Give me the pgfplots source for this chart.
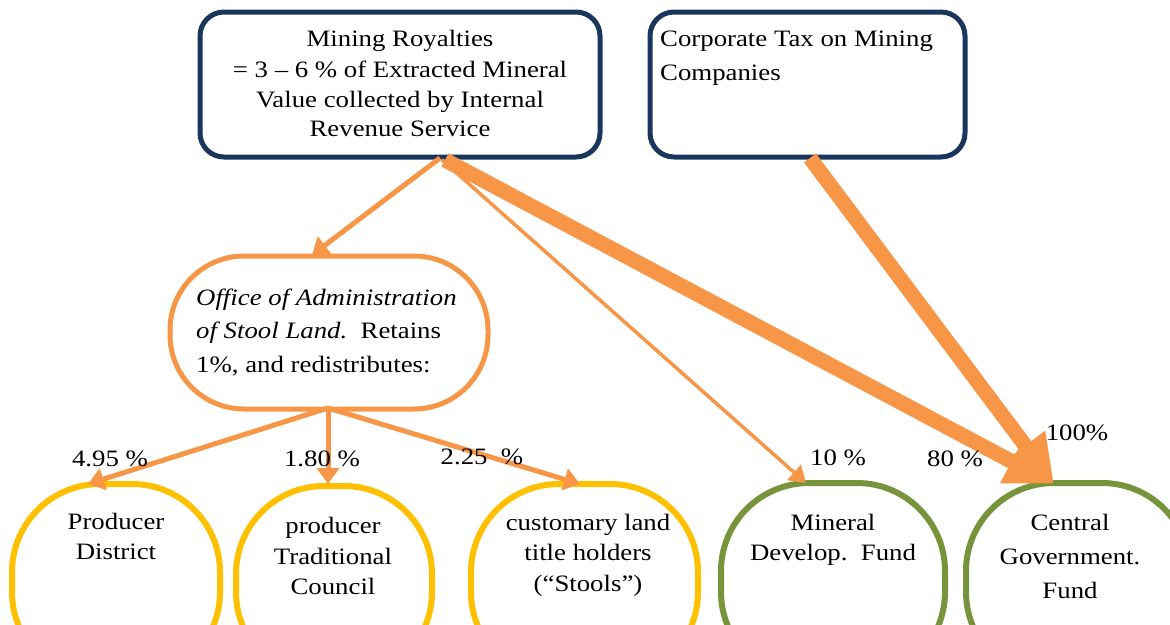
\documentclass[border=0pt]{standalone}
\usepackage{pgfplots}
\pgfplotsset{compat=1.18}
\usepackage{fontspec}
\setmainfont{Liberation Serif}[FakeStretch=1.14]
\usetikzlibrary{arrows.meta}
\definecolor{navy}{HTML}{1B365D}
\definecolor{orng}{HTML}{F79646}
\definecolor{yel}{HTML}{FFC000}
\definecolor{grn}{HTML}{77933C}
\newcommand\bigf{\fontsize{23.5}{30}\selectfont}
\begin{document}
\begin{tikzpicture}[lbl/.style={font=\bigf, inner sep=0pt, anchor=base}]
\begin{axis}[
    scale only axis, width=1170pt, height=624pt,
    xmin=0, xmax=1170, ymin=0, ymax=624, y dir=reverse,
    hide axis, clip=true,
  ]
  % boxes
  \draw[navy, line width=5pt, fill=white, rounded corners=24pt] (200,12) rectangle (600,157);
  \draw[navy, line width=5pt, fill=white, rounded corners=24pt] (650,12) rectangle (965,157);
  \draw[orng, line width=5pt, fill=white, rounded corners=74pt] (170,256) rectangle (488,409);
  \draw[yel, line width=6pt, fill=white, rounded corners=88pt] (12,484) rectangle (220,680);
  \draw[yel, line width=6pt, fill=white, rounded corners=88pt] (236,486) rectangle (432,680);
  \draw[yel, line width=6pt, fill=white, rounded corners=88pt] (471,484) rectangle (698,680);
  \draw[grn, line width=6pt, fill=white, rounded corners=88pt] (721,483) rectangle (945,680);
  \draw[grn, line width=6pt, fill=white, rounded corners=88pt] (966,483) rectangle (1190,680);

  % arrows
  \addplot[orng, line width=5pt, -{Triangle[length=16pt,width=22pt]}] coordinates {(440,158) (312,255)};
  \addplot[orng, line width=3.5pt, -{Triangle[length=16pt,width=20pt]}] coordinates {(442,160) (806,483)};
  \addplot[orng, line width=15pt, -{Triangle[length=48pt,width=46pt]}] coordinates {(445,160) (1054,484)};
  \addplot[orng, line width=15pt, -{Triangle[length=48pt,width=46pt]}] coordinates {(810,158) (1054,484)};
  \addplot[orng, line width=5pt, -{Triangle[length=16pt,width=22pt]}] coordinates {(328,408) (88,484)};
  \addplot[orng, line width=5pt, -{Triangle[length=16pt,width=22pt]}] coordinates {(328,408) (328,484)};
  \addplot[orng, line width=5pt, -{Triangle[length=16pt,width=22pt]}] coordinates {(328,408) (580,484)};

  % texts
  \node[lbl] at (400,46) {\bigf Mining Royalties};
  \node[lbl] at (400,77) {\bigf = 3 – 6 \% of Extracted Mineral};
  \node[lbl] at (400,107) {\bigf Value collected by Internal};
  \node[lbl] at (400,136) {\bigf Revenue Service};
  \node[lbl, anchor=base west] at (660,46) {\bigf Corporate Tax on Mining};
  \node[lbl, anchor=base west] at (660,80) {\bigf Companies};
  \node[lbl, anchor=base west] at (196,305) {\bigf\itshape Office of Administration};
  \node[lbl, anchor=base west] at (196,338) {\bigf{\itshape of Stool Land.}\ \ Retains};
  \node[lbl, anchor=base west] at (196,372) {\bigf 1\%, and redistributes:};

  \node[lbl] at (110,466) {\bigf 4.95 \%};
  \node[lbl] at (322,466) {\bigf 1.80 \%};
  \node[lbl] at (482,464) {\bigf 2.25\ \ \%};
  \node[lbl] at (838,465) {\bigf 10 \%};
  \node[lbl] at (955,466) {\bigf 80 \%};
  \node[lbl] at (1077,440) {\bigf 100\%};

  \node[lbl] at (116,529) {\bigf Producer};
  \node[lbl] at (116,559) {\bigf District};
  \node[lbl] at (333,533) {\bigf producer};
  \node[lbl] at (333,564) {\bigf Traditional};
  \node[lbl] at (333,594) {\bigf Council};
  \node[lbl] at (588,530) {\bigf customary land};
  \node[lbl] at (588,560) {\bigf title holders};
  \node[lbl] at (588,591) {\bigf (“Stools”)};
  \node[lbl] at (833,530) {\bigf Mineral};
  \node[lbl] at (833,560) {\bigf Develop.\ \ Fund};
  \node[lbl] at (1070,530) {\bigf Central};
  \node[lbl] at (1070,564) {\bigf Government.};
  \node[lbl] at (1070,598) {\bigf Fund};
\end{axis}
\pgfresetboundingbox
\path[use as bounding box] (current axis.south west) rectangle (current axis.north east);
\end{tikzpicture}
\end{document}
